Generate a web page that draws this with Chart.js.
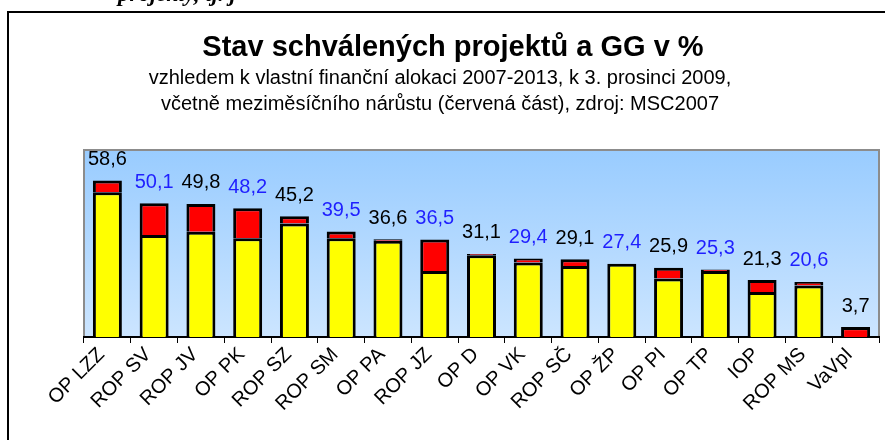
<!DOCTYPE html>
<html><head><meta charset="utf-8">
<script src="https://cdn.jsdelivr.net/npm/chart.js@4.4.1/dist/chart.umd.min.js"></script>
<style>html,body{margin:0;padding:0;background:#fff;} canvas{display:block;}</style>
</head><body>
<canvas id="c" width="885" height="440"></canvas>
<script>
const categories = ['OP LZZ','ROP SV','ROP JV','OP PK','ROP SZ','ROP SM','OP PA','ROP JZ','OP D','OP VK','ROP SČ','OP ŽP','OP PI','OP TP','IOP','ROP MS','VaVpI'];
const approvedBefore = [54.2, 38.2, 39.4, 37.0, 42.5, 37.0, 36.0, 24.7, 30.6, 27.9, 26.6, 27.4, 21.9, 24.7, 16.8, 19.3, 0];
const monthlyIncrease = [4.4, 11.9, 10.4, 11.2, 2.7, 2.5, 0.6, 11.8, 0.5, 1.5, 2.5, 0, 4.0, 0.6, 4.5, 1.3, 3.7];
const totalValues = [58.6, 50.1, 49.8, 48.2, 45.2, 39.5, 36.6, 36.5, 31.1, 29.4, 29.1, 27.4, 25.9, 25.3, 21.3, 20.6, 3.7];
const totalLabels = ['58,6','50,1','49,8','48,2','45,2','39,5','36,6','36,5','31,1','29,4','29,1','27,4','25,9','25,3','21,3','20,6','3,7'];
const titleText = 'Stav schválených projektů a GG v %';
const subtitleLines = ['vzhledem k vlastní finanční alokaci 2007-2013, k 3. prosinci 2009,', 'včetně meziměsíčního nárůstu (červená část), zdroj: MSC2007'];
const headerFragment = 'projekty, tj. j';

const FONT = '"Liberation Sans", Arial, sans-serif';
const decor = {
  id: 'decor',
  beforeDraw(chart) {
    const {ctx, chartArea: a} = chart;
    ctx.save();
    ctx.fillStyle = '#fff';
    ctx.fillRect(0, 0, chart.width, chart.height);
    ctx.fillStyle = '#000';
    ctx.font = 'bold italic 23px "Liberation Serif", serif';
    ctx.textAlign = 'left'; ctx.textBaseline = 'alphabetic';
    ctx.fillText(headerFragment, 118, 1);
    ctx.fillRect(7, 11, 878, 2);
    ctx.fillRect(7, 11, 2, 429);
    ctx.textAlign = 'center'; ctx.textBaseline = 'middle';
    ctx.font = 'bold 29px ' + FONT;
    ctx.fillText(titleText, 453, 48);
    ctx.font = '20px ' + FONT;
    ctx.fillText(subtitleLines[0], 440, 78);
    ctx.fillText(subtitleLines[1], 440, 104);
    const g = ctx.createLinearGradient(0, a.top, 0, a.bottom);
    g.addColorStop(0, '#99CCFF');
    g.addColorStop(1, '#CCE5FF');
    ctx.fillStyle = g;
    ctx.fillRect(a.left, a.top, a.right - a.left, a.bottom - a.top);
    ctx.strokeStyle = '#8c8c8c'; ctx.lineWidth = 2;
    ctx.beginPath();
    ctx.moveTo(a.left, a.bottom); ctx.lineTo(a.left, a.top); ctx.lineTo(a.right, a.top); ctx.lineTo(a.right, a.bottom);
    ctx.stroke();
    ctx.restore();
  },
  afterDatasetsDraw(chart) {
    const {ctx, scales: {x, y}} = chart;
    ctx.save();
    ctx.font = '20px ' + FONT;
    ctx.textAlign = 'center'; ctx.textBaseline = 'middle';
    totalValues.forEach((v, i) => {
      ctx.fillStyle = i % 2 === 0 ? '#000' : '#1F1FFF';
      ctx.fillText(totalLabels[i], x.getPixelForValue(i), y.getPixelForValue(v) - 21);
    });
    ctx.restore();
  }
};

new Chart(document.getElementById('c'), {
  type: 'bar',
  data: {
    labels: categories,
    datasets: [
      {label: 'schváleno', data: approvedBefore, backgroundColor: '#FFFF00', borderColor: '#000', borderWidth: 3},
      {label: 'nárůst', data: monthlyIncrease, backgroundColor: '#FF0000', borderColor: '#000', borderWidth: 3}
    ]
  },
  options: {
    responsive: false, animation: false,
    layout: {padding: {left: 84, right: 6, top: 150, bottom: 0}},
    datasets: {bar: {categoryPercentage: 1, barPercentage: 0.62}},
    plugins: {legend: {display: false}, tooltip: {enabled: false}, title: {display: false}},
    scales: {
      x: {
        stacked: true,
        grid: {offset: true, drawOnChartArea: false, drawTicks: true, tickLength: 6, color: '#000', lineWidth: 1},
        border: {display: true, color: '#000', width: 2},
        ticks: {color: '#000', font: {family: FONT, size: 20}, minRotation: 45, maxRotation: 45, autoSkip: false, padding: 0, labelOffset: -6},
        afterFit(s) { s.height = 103; }
      },
      y: {stacked: true, display: false, min: 0, max: 70}
    }
  },
  plugins: [decor]
});
</script>
</body></html>
